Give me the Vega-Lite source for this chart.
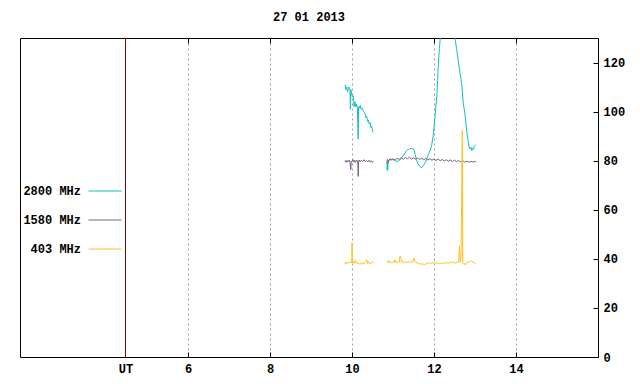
{
  "$schema": "https://vega.github.io/schema/vega-lite/v6.json",
  "width": 578,
  "height": 319,
  "autosize": {"type": "none"},
  "padding": {"left": 20, "top": 38, "right": 42, "bottom": 27},
  "background": "white",
  "config": {
    "view": {"stroke": "#000000", "strokeWidth": 1},
    "font": "Liberation Mono",
    "axis": {"labelFont": "Liberation Mono", "labelFontSize": 12, "labelFontWeight": "bold", "labelColor": "#000000", "tickColor": "#000000", "domain": false, "title": null},
    "legend": {"labelFont": "Liberation Mono", "labelFontSize": 12, "labelFontWeight": "bold", "labelColor": "#000000"}
  },
  "title": {"text": "27 01 2013", "font": "Liberation Mono", "fontSize": 12, "fontWeight": "bold", "color": "#000000", "offset": 14, "anchor": "middle"},
  "datasets": {
    "marker": [{"name": "UT", "t": 4.473}],
    "radio": [
      {"band": "2800 MHz", "seg": 1, "t": 9.83, "v": 111},
      {"band": "2800 MHz", "seg": 1, "t": 9.85, "v": 109},
      {"band": "2800 MHz", "seg": 1, "t": 9.87, "v": 110},
      {"band": "2800 MHz", "seg": 1, "t": 9.89, "v": 108},
      {"band": "2800 MHz", "seg": 1, "t": 9.91, "v": 109.5},
      {"band": "2800 MHz", "seg": 1, "t": 9.93, "v": 110},
      {"band": "2800 MHz", "seg": 1, "t": 9.95, "v": 109},
      {"band": "2800 MHz", "seg": 1, "t": 9.96, "v": 101},
      {"band": "2800 MHz", "seg": 1, "t": 9.97, "v": 109},
      {"band": "2800 MHz", "seg": 1, "t": 9.99, "v": 107},
      {"band": "2800 MHz", "seg": 1, "t": 10.01, "v": 106},
      {"band": "2800 MHz", "seg": 1, "t": 10.03, "v": 106.5},
      {"band": "2800 MHz", "seg": 1, "t": 10.05, "v": 102},
      {"band": "2800 MHz", "seg": 1, "t": 10.07, "v": 104},
      {"band": "2800 MHz", "seg": 1, "t": 10.09, "v": 102},
      {"band": "2800 MHz", "seg": 1, "t": 10.11, "v": 103},
      {"band": "2800 MHz", "seg": 1, "t": 10.13, "v": 101.5},
      {"band": "2800 MHz", "seg": 1, "t": 10.15, "v": 88.8},
      {"band": "2800 MHz", "seg": 1, "t": 10.16, "v": 102},
      {"band": "2800 MHz", "seg": 1, "t": 10.18, "v": 101.5},
      {"band": "2800 MHz", "seg": 1, "t": 10.2, "v": 102.5},
      {"band": "2800 MHz", "seg": 1, "t": 10.22, "v": 101},
      {"band": "2800 MHz", "seg": 1, "t": 10.24, "v": 101.5},
      {"band": "2800 MHz", "seg": 1, "t": 10.27, "v": 100.5},
      {"band": "2800 MHz", "seg": 1, "t": 10.3, "v": 99.5},
      {"band": "2800 MHz", "seg": 1, "t": 10.32, "v": 99},
      {"band": "2800 MHz", "seg": 1, "t": 10.34, "v": 97.5},
      {"band": "2800 MHz", "seg": 1, "t": 10.36, "v": 98},
      {"band": "2800 MHz", "seg": 1, "t": 10.38, "v": 96},
      {"band": "2800 MHz", "seg": 1, "t": 10.4, "v": 96.5},
      {"band": "2800 MHz", "seg": 1, "t": 10.42, "v": 95},
      {"band": "2800 MHz", "seg": 1, "t": 10.44, "v": 95.6},
      {"band": "2800 MHz", "seg": 1, "t": 10.46, "v": 93.5},
      {"band": "2800 MHz", "seg": 1, "t": 10.48, "v": 94},
      {"band": "2800 MHz", "seg": 1, "t": 10.5, "v": 92},
      {"band": "2800 MHz", "seg": 1, "t": 10.52, "v": 91.5},
      {"band": "2800 MHz", "seg": 2, "t": 10.85, "v": 76.5},
      {"band": "2800 MHz", "seg": 2, "t": 10.86, "v": 79},
      {"band": "2800 MHz", "seg": 2, "t": 10.87, "v": 76},
      {"band": "2800 MHz", "seg": 2, "t": 10.88, "v": 79.5},
      {"band": "2800 MHz", "seg": 2, "t": 10.9, "v": 80},
      {"band": "2800 MHz", "seg": 2, "t": 10.93, "v": 80.8},
      {"band": "2800 MHz", "seg": 2, "t": 10.96, "v": 80.5},
      {"band": "2800 MHz", "seg": 2, "t": 11.0, "v": 80.4},
      {"band": "2800 MHz", "seg": 2, "t": 11.04, "v": 80},
      {"band": "2800 MHz", "seg": 2, "t": 11.08, "v": 79.8},
      {"band": "2800 MHz", "seg": 2, "t": 11.13, "v": 79.8},
      {"band": "2800 MHz", "seg": 2, "t": 11.17, "v": 80.5},
      {"band": "2800 MHz", "seg": 2, "t": 11.21, "v": 81.1},
      {"band": "2800 MHz", "seg": 2, "t": 11.25, "v": 82},
      {"band": "2800 MHz", "seg": 2, "t": 11.29, "v": 83},
      {"band": "2800 MHz", "seg": 2, "t": 11.33, "v": 84},
      {"band": "2800 MHz", "seg": 2, "t": 11.37, "v": 84.6},
      {"band": "2800 MHz", "seg": 2, "t": 11.41, "v": 84.8},
      {"band": "2800 MHz", "seg": 2, "t": 11.45, "v": 85},
      {"band": "2800 MHz", "seg": 2, "t": 11.49, "v": 84.8},
      {"band": "2800 MHz", "seg": 2, "t": 11.52, "v": 84},
      {"band": "2800 MHz", "seg": 2, "t": 11.54, "v": 82.5},
      {"band": "2800 MHz", "seg": 2, "t": 11.57, "v": 80.5},
      {"band": "2800 MHz", "seg": 2, "t": 11.6, "v": 79},
      {"band": "2800 MHz", "seg": 2, "t": 11.63, "v": 78.2},
      {"band": "2800 MHz", "seg": 2, "t": 11.66, "v": 77.5},
      {"band": "2800 MHz", "seg": 2, "t": 11.7, "v": 77.2},
      {"band": "2800 MHz", "seg": 2, "t": 11.74, "v": 78},
      {"band": "2800 MHz", "seg": 2, "t": 11.78, "v": 79.1},
      {"band": "2800 MHz", "seg": 2, "t": 11.82, "v": 80.5},
      {"band": "2800 MHz", "seg": 2, "t": 11.86, "v": 82.5},
      {"band": "2800 MHz", "seg": 2, "t": 11.9, "v": 84},
      {"band": "2800 MHz", "seg": 2, "t": 11.94, "v": 86},
      {"band": "2800 MHz", "seg": 2, "t": 11.98, "v": 90.3},
      {"band": "2800 MHz", "seg": 2, "t": 12.02, "v": 97.1},
      {"band": "2800 MHz", "seg": 2, "t": 12.05, "v": 103},
      {"band": "2800 MHz", "seg": 2, "t": 12.07, "v": 106.6},
      {"band": "2800 MHz", "seg": 2, "t": 12.1, "v": 117.5},
      {"band": "2800 MHz", "seg": 2, "t": 12.13, "v": 125.7},
      {"band": "2800 MHz", "seg": 2, "t": 12.16, "v": 131},
      {"band": "2800 MHz", "seg": 2, "t": 12.2, "v": 137},
      {"band": "2800 MHz", "seg": 2, "t": 12.26, "v": 143},
      {"band": "2800 MHz", "seg": 2, "t": 12.33, "v": 146},
      {"band": "2800 MHz", "seg": 2, "t": 12.4, "v": 143},
      {"band": "2800 MHz", "seg": 2, "t": 12.46, "v": 136},
      {"band": "2800 MHz", "seg": 2, "t": 12.5, "v": 131},
      {"band": "2800 MHz", "seg": 2, "t": 12.55, "v": 125.7},
      {"band": "2800 MHz", "seg": 2, "t": 12.59, "v": 120.9},
      {"band": "2800 MHz", "seg": 2, "t": 12.63, "v": 116.2},
      {"band": "2800 MHz", "seg": 2, "t": 12.68, "v": 110.7},
      {"band": "2800 MHz", "seg": 2, "t": 12.71, "v": 103.9},
      {"band": "2800 MHz", "seg": 2, "t": 12.76, "v": 98.4},
      {"band": "2800 MHz", "seg": 2, "t": 12.8, "v": 91.6},
      {"band": "2800 MHz", "seg": 2, "t": 12.84, "v": 87.5},
      {"band": "2800 MHz", "seg": 2, "t": 12.86, "v": 85},
      {"band": "2800 MHz", "seg": 2, "t": 12.88, "v": 84.8},
      {"band": "2800 MHz", "seg": 2, "t": 12.9, "v": 85.5},
      {"band": "2800 MHz", "seg": 2, "t": 12.92, "v": 84.1},
      {"band": "2800 MHz", "seg": 2, "t": 12.94, "v": 85},
      {"band": "2800 MHz", "seg": 2, "t": 12.96, "v": 84.6},
      {"band": "2800 MHz", "seg": 2, "t": 12.98, "v": 85.8},
      {"band": "2800 MHz", "seg": 2, "t": 13.0, "v": 86.2},
      {"band": "2800 MHz", "seg": 2, "t": 13.02, "v": 86.5},
      {"band": "1580 MHz", "seg": 1, "t": 9.83, "v": 79.5},
      {"band": "1580 MHz", "seg": 1, "t": 9.85, "v": 80.2},
      {"band": "1580 MHz", "seg": 1, "t": 9.87, "v": 79.3},
      {"band": "1580 MHz", "seg": 1, "t": 9.89, "v": 80},
      {"band": "1580 MHz", "seg": 1, "t": 9.91, "v": 79.6},
      {"band": "1580 MHz", "seg": 1, "t": 9.93, "v": 80.3},
      {"band": "1580 MHz", "seg": 1, "t": 9.95, "v": 79.4},
      {"band": "1580 MHz", "seg": 1, "t": 9.97, "v": 76.4},
      {"band": "1580 MHz", "seg": 1, "t": 9.98, "v": 79.8},
      {"band": "1580 MHz", "seg": 1, "t": 10.0, "v": 79.5},
      {"band": "1580 MHz", "seg": 1, "t": 10.02, "v": 80.4},
      {"band": "1580 MHz", "seg": 1, "t": 10.04, "v": 79.6},
      {"band": "1580 MHz", "seg": 1, "t": 10.06, "v": 80.1},
      {"band": "1580 MHz", "seg": 1, "t": 10.08, "v": 79.3},
      {"band": "1580 MHz", "seg": 1, "t": 10.1, "v": 80.2},
      {"band": "1580 MHz", "seg": 1, "t": 10.12, "v": 79.7},
      {"band": "1580 MHz", "seg": 1, "t": 10.14, "v": 80},
      {"band": "1580 MHz", "seg": 1, "t": 10.15, "v": 73.6},
      {"band": "1580 MHz", "seg": 1, "t": 10.16, "v": 79.8},
      {"band": "1580 MHz", "seg": 1, "t": 10.18, "v": 80.3},
      {"band": "1580 MHz", "seg": 1, "t": 10.2, "v": 79.5},
      {"band": "1580 MHz", "seg": 1, "t": 10.23, "v": 80.2},
      {"band": "1580 MHz", "seg": 1, "t": 10.26, "v": 79.7},
      {"band": "1580 MHz", "seg": 1, "t": 10.29, "v": 80.4},
      {"band": "1580 MHz", "seg": 1, "t": 10.32, "v": 79.6},
      {"band": "1580 MHz", "seg": 1, "t": 10.35, "v": 80.1},
      {"band": "1580 MHz", "seg": 1, "t": 10.38, "v": 79.5},
      {"band": "1580 MHz", "seg": 1, "t": 10.41, "v": 80.2},
      {"band": "1580 MHz", "seg": 1, "t": 10.44, "v": 79.4},
      {"band": "1580 MHz", "seg": 1, "t": 10.47, "v": 80},
      {"band": "1580 MHz", "seg": 1, "t": 10.5, "v": 79.3},
      {"band": "1580 MHz", "seg": 1, "t": 10.52, "v": 79.7},
      {"band": "1580 MHz", "seg": 2, "t": 10.85, "v": 78.6},
      {"band": "1580 MHz", "seg": 2, "t": 10.86, "v": 80.5},
      {"band": "1580 MHz", "seg": 2, "t": 10.88, "v": 79.2},
      {"band": "1580 MHz", "seg": 2, "t": 10.91, "v": 80.6},
      {"band": "1580 MHz", "seg": 2, "t": 10.95, "v": 80.2},
      {"band": "1580 MHz", "seg": 2, "t": 11.0, "v": 80.8},
      {"band": "1580 MHz", "seg": 2, "t": 11.05, "v": 80.3},
      {"band": "1580 MHz", "seg": 2, "t": 11.1, "v": 81},
      {"band": "1580 MHz", "seg": 2, "t": 11.15, "v": 80.5},
      {"band": "1580 MHz", "seg": 2, "t": 11.2, "v": 81.2},
      {"band": "1580 MHz", "seg": 2, "t": 11.25, "v": 80.6},
      {"band": "1580 MHz", "seg": 2, "t": 11.3, "v": 81.3},
      {"band": "1580 MHz", "seg": 2, "t": 11.35, "v": 80.8},
      {"band": "1580 MHz", "seg": 2, "t": 11.4, "v": 81.4},
      {"band": "1580 MHz", "seg": 2, "t": 11.45, "v": 80.7},
      {"band": "1580 MHz", "seg": 2, "t": 11.5, "v": 81.2},
      {"band": "1580 MHz", "seg": 2, "t": 11.55, "v": 80.6},
      {"band": "1580 MHz", "seg": 2, "t": 11.6, "v": 81.1},
      {"band": "1580 MHz", "seg": 2, "t": 11.65, "v": 80.5},
      {"band": "1580 MHz", "seg": 2, "t": 11.7, "v": 81},
      {"band": "1580 MHz", "seg": 2, "t": 11.75, "v": 80.4},
      {"band": "1580 MHz", "seg": 2, "t": 11.8, "v": 80.9},
      {"band": "1580 MHz", "seg": 2, "t": 11.85, "v": 80.3},
      {"band": "1580 MHz", "seg": 2, "t": 11.9, "v": 80.8},
      {"band": "1580 MHz", "seg": 2, "t": 11.95, "v": 80.2},
      {"band": "1580 MHz", "seg": 2, "t": 12.0, "v": 80.7},
      {"band": "1580 MHz", "seg": 2, "t": 12.05, "v": 80.1},
      {"band": "1580 MHz", "seg": 2, "t": 12.1, "v": 80.6},
      {"band": "1580 MHz", "seg": 2, "t": 12.15, "v": 80},
      {"band": "1580 MHz", "seg": 2, "t": 12.2, "v": 80.5},
      {"band": "1580 MHz", "seg": 2, "t": 12.25, "v": 79.9},
      {"band": "1580 MHz", "seg": 2, "t": 12.3, "v": 80.4},
      {"band": "1580 MHz", "seg": 2, "t": 12.35, "v": 79.8},
      {"band": "1580 MHz", "seg": 2, "t": 12.4, "v": 80.3},
      {"band": "1580 MHz", "seg": 2, "t": 12.45, "v": 79.7},
      {"band": "1580 MHz", "seg": 2, "t": 12.5, "v": 80.2},
      {"band": "1580 MHz", "seg": 2, "t": 12.55, "v": 79.6},
      {"band": "1580 MHz", "seg": 2, "t": 12.6, "v": 80.1},
      {"band": "1580 MHz", "seg": 2, "t": 12.65, "v": 79.5},
      {"band": "1580 MHz", "seg": 2, "t": 12.7, "v": 80},
      {"band": "1580 MHz", "seg": 2, "t": 12.75, "v": 79.4},
      {"band": "1580 MHz", "seg": 2, "t": 12.8, "v": 79.9},
      {"band": "1580 MHz", "seg": 2, "t": 12.85, "v": 79.3},
      {"band": "1580 MHz", "seg": 2, "t": 12.9, "v": 79.8},
      {"band": "1580 MHz", "seg": 2, "t": 12.95, "v": 79.4},
      {"band": "1580 MHz", "seg": 2, "t": 13.0, "v": 79.8},
      {"band": "1580 MHz", "seg": 2, "t": 13.02, "v": 79.5},
      {"band": "403 MHz", "seg": 1, "t": 9.83, "v": 38.9},
      {"band": "403 MHz", "seg": 1, "t": 9.84, "v": 37.8},
      {"band": "403 MHz", "seg": 1, "t": 9.86, "v": 38.5},
      {"band": "403 MHz", "seg": 1, "t": 9.88, "v": 38.1},
      {"band": "403 MHz", "seg": 1, "t": 9.9, "v": 38.6},
      {"band": "403 MHz", "seg": 1, "t": 9.92, "v": 38.2},
      {"band": "403 MHz", "seg": 1, "t": 9.94, "v": 38.7},
      {"band": "403 MHz", "seg": 1, "t": 9.96, "v": 38.3},
      {"band": "403 MHz", "seg": 1, "t": 9.98, "v": 38.8},
      {"band": "403 MHz", "seg": 1, "t": 9.99, "v": 38.4},
      {"band": "403 MHz", "seg": 1, "t": 10.0, "v": 46.4},
      {"band": "403 MHz", "seg": 1, "t": 10.01, "v": 38.5},
      {"band": "403 MHz", "seg": 1, "t": 10.03, "v": 38.9},
      {"band": "403 MHz", "seg": 1, "t": 10.05, "v": 38.2},
      {"band": "403 MHz", "seg": 1, "t": 10.07, "v": 39.3},
      {"band": "403 MHz", "seg": 1, "t": 10.09, "v": 38.4},
      {"band": "403 MHz", "seg": 1, "t": 10.11, "v": 38.7},
      {"band": "403 MHz", "seg": 1, "t": 10.13, "v": 37.9},
      {"band": "403 MHz", "seg": 1, "t": 10.15, "v": 38.4},
      {"band": "403 MHz", "seg": 1, "t": 10.18, "v": 37.8},
      {"band": "403 MHz", "seg": 1, "t": 10.21, "v": 38.3},
      {"band": "403 MHz", "seg": 1, "t": 10.24, "v": 37.7},
      {"band": "403 MHz", "seg": 1, "t": 10.27, "v": 38.5},
      {"band": "403 MHz", "seg": 1, "t": 10.3, "v": 38},
      {"band": "403 MHz", "seg": 1, "t": 10.33, "v": 38.6},
      {"band": "403 MHz", "seg": 1, "t": 10.36, "v": 39.6},
      {"band": "403 MHz", "seg": 1, "t": 10.38, "v": 38.1},
      {"band": "403 MHz", "seg": 1, "t": 10.41, "v": 38.8},
      {"band": "403 MHz", "seg": 1, "t": 10.44, "v": 37.9},
      {"band": "403 MHz", "seg": 1, "t": 10.47, "v": 38.4},
      {"band": "403 MHz", "seg": 1, "t": 10.5, "v": 38.8},
      {"band": "403 MHz", "seg": 1, "t": 10.52, "v": 38.2},
      {"band": "403 MHz", "seg": 2, "t": 10.85, "v": 38.3},
      {"band": "403 MHz", "seg": 2, "t": 10.87, "v": 38.5},
      {"band": "403 MHz", "seg": 2, "t": 10.89, "v": 39.5},
      {"band": "403 MHz", "seg": 2, "t": 10.91, "v": 38.3},
      {"band": "403 MHz", "seg": 2, "t": 10.94, "v": 38.6},
      {"band": "403 MHz", "seg": 2, "t": 10.97, "v": 38.4},
      {"band": "403 MHz", "seg": 2, "t": 11.0, "v": 38.8},
      {"band": "403 MHz", "seg": 2, "t": 11.03, "v": 38.5},
      {"band": "403 MHz", "seg": 2, "t": 11.05, "v": 39.6},
      {"band": "403 MHz", "seg": 2, "t": 11.07, "v": 38.6},
      {"band": "403 MHz", "seg": 2, "t": 11.1, "v": 38.4},
      {"band": "403 MHz", "seg": 2, "t": 11.13, "v": 38.9},
      {"band": "403 MHz", "seg": 2, "t": 11.15, "v": 38.5},
      {"band": "403 MHz", "seg": 2, "t": 11.17, "v": 41.2},
      {"band": "403 MHz", "seg": 2, "t": 11.19, "v": 40.4},
      {"band": "403 MHz", "seg": 2, "t": 11.21, "v": 38.6},
      {"band": "403 MHz", "seg": 2, "t": 11.24, "v": 38.8},
      {"band": "403 MHz", "seg": 2, "t": 11.26, "v": 38.4},
      {"band": "403 MHz", "seg": 2, "t": 11.29, "v": 38.7},
      {"band": "403 MHz", "seg": 2, "t": 11.32, "v": 38.5},
      {"band": "403 MHz", "seg": 2, "t": 11.36, "v": 38.8},
      {"band": "403 MHz", "seg": 2, "t": 11.4, "v": 38.6},
      {"band": "403 MHz", "seg": 2, "t": 11.44, "v": 38.9},
      {"band": "403 MHz", "seg": 2, "t": 11.48, "v": 38.7},
      {"band": "403 MHz", "seg": 2, "t": 11.51, "v": 40.3},
      {"band": "403 MHz", "seg": 2, "t": 11.53, "v": 39},
      {"band": "403 MHz", "seg": 2, "t": 11.56, "v": 38.6},
      {"band": "403 MHz", "seg": 2, "t": 11.6, "v": 38.3},
      {"band": "403 MHz", "seg": 2, "t": 11.64, "v": 38},
      {"band": "403 MHz", "seg": 2, "t": 11.68, "v": 37.8},
      {"band": "403 MHz", "seg": 2, "t": 11.72, "v": 38},
      {"band": "403 MHz", "seg": 2, "t": 11.76, "v": 37.7},
      {"band": "403 MHz", "seg": 2, "t": 11.8, "v": 37.9},
      {"band": "403 MHz", "seg": 2, "t": 11.84, "v": 38.2},
      {"band": "403 MHz", "seg": 2, "t": 11.88, "v": 38.4},
      {"band": "403 MHz", "seg": 2, "t": 11.92, "v": 38.1},
      {"band": "403 MHz", "seg": 2, "t": 11.96, "v": 38.4},
      {"band": "403 MHz", "seg": 2, "t": 12.0, "v": 38.2},
      {"band": "403 MHz", "seg": 2, "t": 12.04, "v": 38.5},
      {"band": "403 MHz", "seg": 2, "t": 12.08, "v": 38.1},
      {"band": "403 MHz", "seg": 2, "t": 12.12, "v": 38.3},
      {"band": "403 MHz", "seg": 2, "t": 12.16, "v": 38},
      {"band": "403 MHz", "seg": 2, "t": 12.2, "v": 38.4},
      {"band": "403 MHz", "seg": 2, "t": 12.25, "v": 38.1},
      {"band": "403 MHz", "seg": 2, "t": 12.3, "v": 38.5},
      {"band": "403 MHz", "seg": 2, "t": 12.35, "v": 38.2},
      {"band": "403 MHz", "seg": 2, "t": 12.4, "v": 38.6},
      {"band": "403 MHz", "seg": 2, "t": 12.44, "v": 38.3},
      {"band": "403 MHz", "seg": 2, "t": 12.48, "v": 38.7},
      {"band": "403 MHz", "seg": 2, "t": 12.52, "v": 38.2},
      {"band": "403 MHz", "seg": 2, "t": 12.56, "v": 38.5},
      {"band": "403 MHz", "seg": 2, "t": 12.6, "v": 38.8},
      {"band": "403 MHz", "seg": 2, "t": 12.62, "v": 45.3},
      {"band": "403 MHz", "seg": 2, "t": 12.64, "v": 38.6},
      {"band": "403 MHz", "seg": 2, "t": 12.66, "v": 41.6},
      {"band": "403 MHz", "seg": 2, "t": 12.69, "v": 92.3},
      {"band": "403 MHz", "seg": 2, "t": 12.7, "v": 38.4},
      {"band": "403 MHz", "seg": 2, "t": 12.72, "v": 37.8},
      {"band": "403 MHz", "seg": 2, "t": 12.74, "v": 38.2},
      {"band": "403 MHz", "seg": 2, "t": 12.76, "v": 37.5},
      {"band": "403 MHz", "seg": 2, "t": 12.8, "v": 38.3},
      {"band": "403 MHz", "seg": 2, "t": 12.84, "v": 38.6},
      {"band": "403 MHz", "seg": 2, "t": 12.88, "v": 38.9},
      {"band": "403 MHz", "seg": 2, "t": 12.92, "v": 39.1},
      {"band": "403 MHz", "seg": 2, "t": 12.96, "v": 38.6},
      {"band": "403 MHz", "seg": 2, "t": 13.0, "v": 38.3},
      {"band": "403 MHz", "seg": 2, "t": 13.02, "v": 38.1}
    ]
  },
  "layer": [
    {
      "data": {"name": "radio"},
      "mark": {"type": "line", "strokeWidth": 1, "clip": true, "interpolate": "linear"},
      "encoding": {
        "x": {"field": "t", "type": "quantitative",
          "scale": {"domain": [1.9, 16], "nice": false, "zero": false},
          "axis": {"orient": "bottom", "values": [4.473, 6, 8, 10, 12, 14], "labelExpr": "datum.value < 5 ? 'UT' : datum.label", "grid": true, "gridColor": "#a0a0a0", "gridDash": [2, 3], "gridOpacity": 1, "gridWidth": 1, "tickSize": -5, "labelPadding": 11, "labelFlush": false}},
        "y": {"field": "v", "type": "quantitative",
          "scale": {"domain": [0, 130], "nice": false},
          "axis": {"orient": "right", "values": [0, 20, 40, 60, 80, 100, 120], "grid": false, "tickSize": -5, "labelPadding": 10, "labelBaseline": "middle", "labelFlush": false}},
        "color": {"field": "band", "type": "nominal",
          "scale": {"domain": ["2800 MHz", "1580 MHz", "403 MHz"], "range": ["#10c0c0", "#7a6080", "#ffc020"]},
          "legend": {"title": null, "orient": "none", "legendX": 68, "legendY": 136, "symbolType": "stroke", "symbolSize": 1089, "symbolStrokeWidth": 1, "labelAlign": "right", "labelOffset": -41, "rowPadding": 6, "padding": 0}},
        "detail": {"field": "seg", "type": "nominal"}
      }
    },
    {
      "data": {"name": "marker"},
      "mark": {"type": "rule", "color": "#8b0000", "strokeWidth": 1},
      "encoding": {
        "x": {"field": "t", "type": "quantitative",
          "axis": {"orient": "top", "values": [6, 8, 10, 12, 14], "labels": false, "grid": false, "tickSize": -5}}
      }
    }
  ],
  "resolve": {"axis": {"x": "independent"}}
}
